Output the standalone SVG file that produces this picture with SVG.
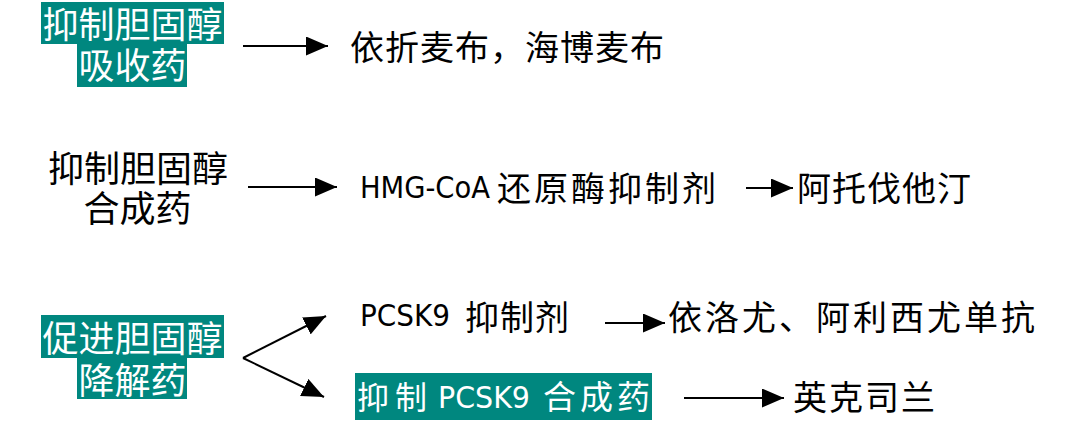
<svg xmlns="http://www.w3.org/2000/svg" width="1080" height="426" viewBox="0 0 1080 426">
<style>
.cn{font-family:"Noto Sans CJK SC","Noto Sans",sans-serif;}
.w{fill:#ffffff;}
.k{fill:#000000;}
.box{fill:#00877f;}
.lat{font-family:"Liberation Sans Narrow","DejaVu Sans Condensed","Liberation Sans",sans-serif;}
.ln{stroke:#000;stroke-width:2;fill:none;marker-end:url(#ah);}
</style>
<defs>
<marker id="ah" markerUnits="userSpaceOnUse" markerWidth="22" markerHeight="19" refX="22" refY="9.5" orient="auto" viewBox="0 0 22 19">
<path d="M0,0 L22,9.5 L0,19 z" fill="#000"/>
</marker>
</defs>
<rect width="1080" height="426" fill="#ffffff"/>

<g id="node-absorb">
<rect class="box" x="41" y="2" width="183" height="42"/>
<rect class="box" x="77" y="43" width="110" height="44"/>
<text class="cn w" font-size="36" text-anchor="middle"><tspan x="132.5" y="38">抑制胆固醇</tspan><tspan x="132.5" y="79">吸收药</tspan></text>
</g>

<g id="node-ezetimibe">
<text class="cn k" x="350" y="60" font-size="34" letter-spacing="1">依折麦布，海博麦布</text>
</g>

<g id="node-synth">
<text class="cn k" font-size="36" text-anchor="middle"><tspan x="138" y="182">抑制胆固醇</tspan><tspan x="137.5" y="222">合成药</tspan></text>
</g>

<g id="node-hmg">
<text class="k" x="360" y="198"><tspan class="lat" font-size="30" textLength="130" lengthAdjust="spacingAndGlyphs">HMG-CoA</tspan> <tspan class="cn" x="497" y="201" font-size="34" letter-spacing="3">还原酶抑制剂</tspan></text>
</g>

<g id="node-statin">
<text class="cn k" x="797" y="201" font-size="34" letter-spacing="1">阿托伐他汀</text>
</g>

<g id="node-degrade">
<rect class="box" x="41" y="315" width="183" height="43"/>
<rect class="box" x="77" y="357" width="110" height="42"/>
<text class="cn w" font-size="36" text-anchor="middle"><tspan x="132.5" y="352">促进胆固醇</tspan><tspan x="132.5" y="394">降解药</tspan></text>
</g>

<g id="node-pcsk9-inhib">
<text class="k" x="360" y="326"><tspan class="lat" font-size="30" textLength="90" lengthAdjust="spacingAndGlyphs">PCSK9</tspan> <tspan class="cn" x="465" y="330" font-size="34" letter-spacing="1">抑制剂</tspan></text>
</g>

<g id="node-mab">
<text class="cn k" x="668" y="330" font-size="34" letter-spacing="3">依洛尤、阿利西尤单抗</text>
</g>

<g id="node-pcsk9-synth">
<rect class="box" x="355" y="373" width="297" height="47"/>
<text class="w" x="357" y="409"><tspan class="cn" font-size="32" letter-spacing="6">抑制</tspan> <tspan class="lat" x="438" y="408" font-size="31" textLength="92" lengthAdjust="spacingAndGlyphs">PCSK9</tspan> <tspan class="cn" x="543" y="409" font-size="33" letter-spacing="4">合成药</tspan></text>
</g>

<g id="node-inclisiran">
<text class="cn k" x="793" y="410" font-size="34" letter-spacing="2">英克司兰</text>
</g>

<g id="connectors">
<line class="ln" x1="243" y1="46" x2="328" y2="46"/>
<line class="ln" x1="248" y1="187" x2="337" y2="187"/>
<line class="ln" x1="746" y1="188" x2="793" y2="188"/>
<line class="ln" x1="605" y1="323" x2="665" y2="323"/>
<line class="ln" x1="684" y1="398" x2="784" y2="398"/>
<line class="ln" x1="243" y1="358" x2="326" y2="316"/>
<line class="ln" x1="243" y1="358" x2="324" y2="397"/>
</g>
</svg>
